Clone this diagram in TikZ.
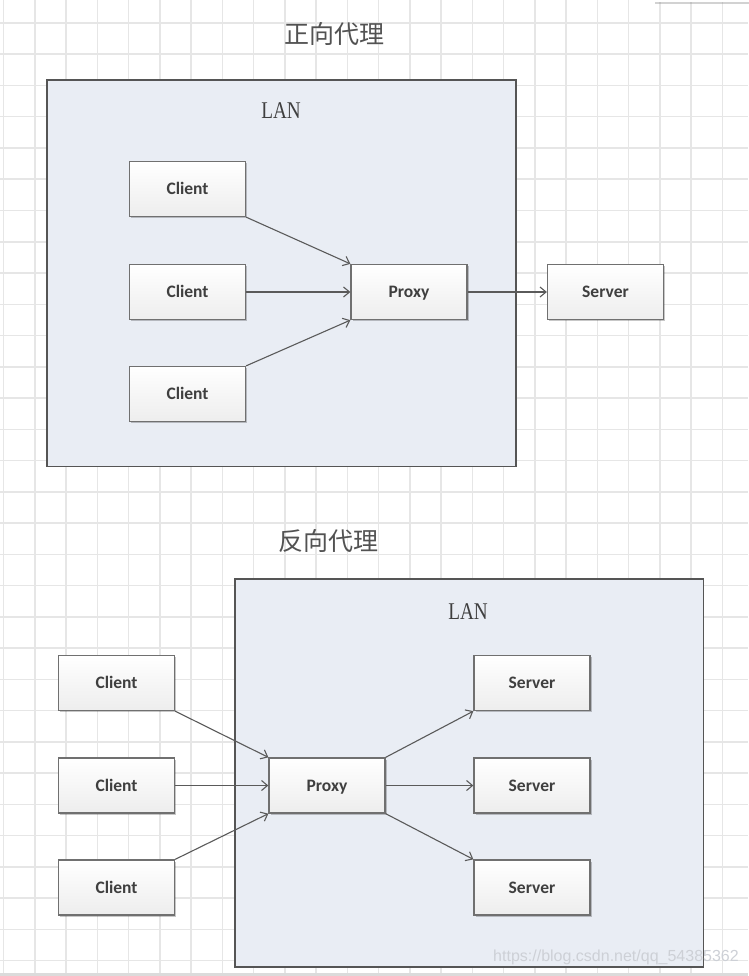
\documentclass[tikz,border=0pt]{standalone}
\usepackage{fontspec}
\setmainfont{Liberation Serif}
\newfontfamily\cjk{Noto Sans CJK SC}
\newfontfamily\boxfont{Carlito}
\newfontfamily\lanfont[FakeStretch=0.8]{Liberation Serif}
\newfontfamily\wmfont{Liberation Sans}
\usetikzlibrary{arrows.meta,shadows}
\definecolor{gridc}{HTML}{E6E6E6}
\definecolor{lanfill}{HTML}{E9EDF4}
\definecolor{lanedge}{HTML}{555555}
\definecolor{boxedge}{HTML}{707070}
\definecolor{txt}{HTML}{3F3F3F}
\definecolor{arr}{HTML}{5A5A5A}
\definecolor{wmc}{HTML}{CDD0D6}
\begin{document}
\begin{tikzpicture}[x=1pt,y=-1pt,
  box/.style={draw=boxedge, line width=1.3pt, top color=white, bottom color=black!7,
    minimum width=116pt, minimum height=55pt, inner sep=0pt,
    text height=11.2pt, text depth=0pt,
    font=\boxfont\bfseries\fontsize{17.5}{20}\selectfont, text=txt,
    drop shadow={shadow xshift=1.5pt, shadow yshift=-1.8pt, opacity=0.22, fill=black}},
  lan/.style={draw=lanedge, line width=1.8pt, fill=lanfill},
  title/.style={font=\cjk\fontsize{25}{28}\selectfont, text=txt!90!white, inner sep=0pt},
  lanlabel/.style={font=\lanfont\fontsize{24}{26}\selectfont, text=txt, inner sep=0pt},
  conn/.style={draw=arr, line width=1.1pt, -{Straight Barb[length=6pt,width=10pt,line width=1.1pt]}},
]
\useasboundingbox (0,0) rectangle (748,976);
\fill[white] (0,0) rectangle (748,976);
% grid
\foreach \i in {0,...,23} {\draw[gridc, line width=1.5pt] ({3.5+31.25*\i},0) -- ({3.5+31.25*\i},976);}
\foreach \j in {0,...,30} {\draw[gridc, line width=1.5pt] (0,{23+31.25*\j}) -- (748,{23+31.25*\j});}
% bottom band and top-right popup
\fill[black!14] (0,973) rectangle (748,976);
\fill[white, drop shadow={shadow xshift=0pt, shadow yshift=-2pt, opacity=0.35}] (655,-6) rectangle (752,2.5);

% ---------- forward proxy ----------
\node[title] (t1) at (334,34) {正向代理};
\draw[lan] (47,80) rectangle (516,466.5);
\node[lanlabel] (lan1) at (281,111) {LAN};
\node[box] (c1) at (187.5,189) {Client};
\node[box] (c2) at (187.5,292) {Client};
\node[box] (c3) at (187.5,394) {Client};
\node[box] (p1) at (409,292) {Proxy};
\node[box] (s0) at (605.5,292) {Server};
\draw[conn] (c1.south east) -- (p1.north west);
\draw[conn] (c2.east) -- (p1.west);
\draw[conn] (c3.north east) -- (p1.south west);
\draw[conn] (p1.east) -- (s0.west);

% ---------- reverse proxy ----------
\node[title] (t2) at (328,541) {反向代理};
\draw[lan] (235,579) rectangle (703.5,967);
\node[lanlabel] (lan2) at (468,612) {LAN};
\node[box] (d1) at (116.5,683) {Client};
\node[box] (d2) at (116.5,785.5) {Client};
\node[box] (d3) at (116.5,887.5) {Client};
\node[box] (p2) at (327,785.5) {Proxy};
\node[box] (s1) at (532,683) {Server};
\node[box] (s2) at (532,785.5) {Server};
\node[box] (s3) at (532,887.5) {Server};
\draw[conn] (d1.south east) -- (p2.north west);
\draw[conn] (d2.east) -- (p2.west);
\draw[conn] (d3.north east) -- (p2.south west);
\draw[conn] (p2.north east) -- (s1.south west);
\draw[conn] (p2.east) -- (s2.west);
\draw[conn] (p2.south east) -- (s3.north west);

% watermark
\node[font=\wmfont\fontsize{16}{18}\selectfont, text=wmc, inner sep=0pt] (wm) at (616,957) {https://blog.csdn.net/qq\_54385362};
\end{tikzpicture}
\end{document}
